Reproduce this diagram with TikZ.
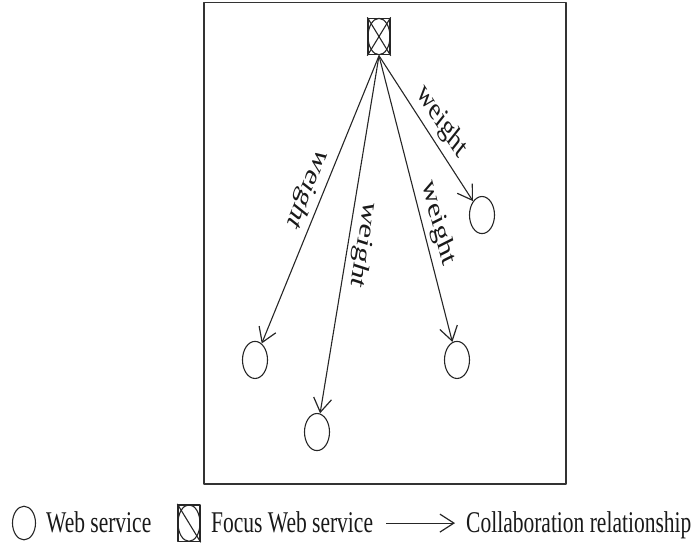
\documentclass[tikz,border=0pt]{standalone}
\usepackage{fontspec}
\setmainfont{Liberation Serif}
\usetikzlibrary{arrows.meta,shapes.geometric}
\begin{document}
\begin{tikzpicture}[x=1pt,y=-1pt,yscale=1.4,transform shape,
  line join=round,
  every node/.style={font=\fontsize{21.5}{24}\selectfont, text=black!90},
  ws/.style={ellipse,draw=black!85,line width=1.1pt,minimum width=25pt,minimum height=26.5pt,inner sep=0pt},
  focusbox/.style={rectangle,draw=black!85,line width=1.4pt,minimum width=22pt,minimum height=26pt,inner sep=0pt},
  mark lines/.style={draw=black!85,line width=1.1pt},
  collab/.style={draw=black!85,line width=1.1pt,-{Straight Barb[length=14pt,width=18pt,line width=1.2pt]}},
  wlabel/.style={inner sep=4pt,font=\fontsize{23}{26}\selectfont},
  legtext/.style={anchor=base west,inner sep=0pt}]
\useasboundingbox (0,0) rectangle (693,391.43);

% frame around the service graph
\draw[line width=1.4pt, black!80] (204,1.6) rectangle (566,345.7);

% focus web service
\node[focusbox] (f) at (379,26.1) {};
\draw[mark lines] (f.north west) -- (f.south east) (f.north east) -- (f.south west);
\draw[mark lines] (f.center) ellipse [x radius=11, y radius=13];

% collaborating web services
\node[ws] (w1) at (255,257.1) {};
\node[ws] (w2) at (317,308.6) {};
\node[ws] (w3) at (457,257.1) {};
\node[ws] (w4) at (482,153.6) {};

% weighted collaboration relationships
\draw[collab] (f.south) -- (w1) node[wlabel,pos=0.5,rotate=240.35,anchor=north] {weight};
\draw[collab] (f.south) -- (w2) node[wlabel,pos=0.515,rotate=257.0,anchor=south] {weight};
\draw[collab] (f.south) -- (w3) node[wlabel,pos=0.61,rotate=-70.3,anchor=south] {weight};
\draw[collab] (f.south) -- (w4) node[wlabel,pos=0.55,rotate=-48,anchor=south] {weight};

% legend
\node[ws,minimum width=23pt,minimum height=24pt] (lw) at (24,373.6) {};
\node[legtext] (lwt) at (46,380) {Web service};
\node[focusbox] (lf) at (189,373.6) {};
\draw[mark lines] (lf.north west) -- (lf.south east);
\draw[mark lines] (lf.center) ellipse [x radius=11, y radius=13];
\node[legtext] (lft) at (211,380) {Focus Web service};
\coordinate (la) at (386,373.6);
\coordinate (lb) at (455,373.6);
\draw[collab] (la) -- (lb);
\node[legtext] (lct) at (466,380) {Collaboration relationship};
\end{tikzpicture}
\end{document}
